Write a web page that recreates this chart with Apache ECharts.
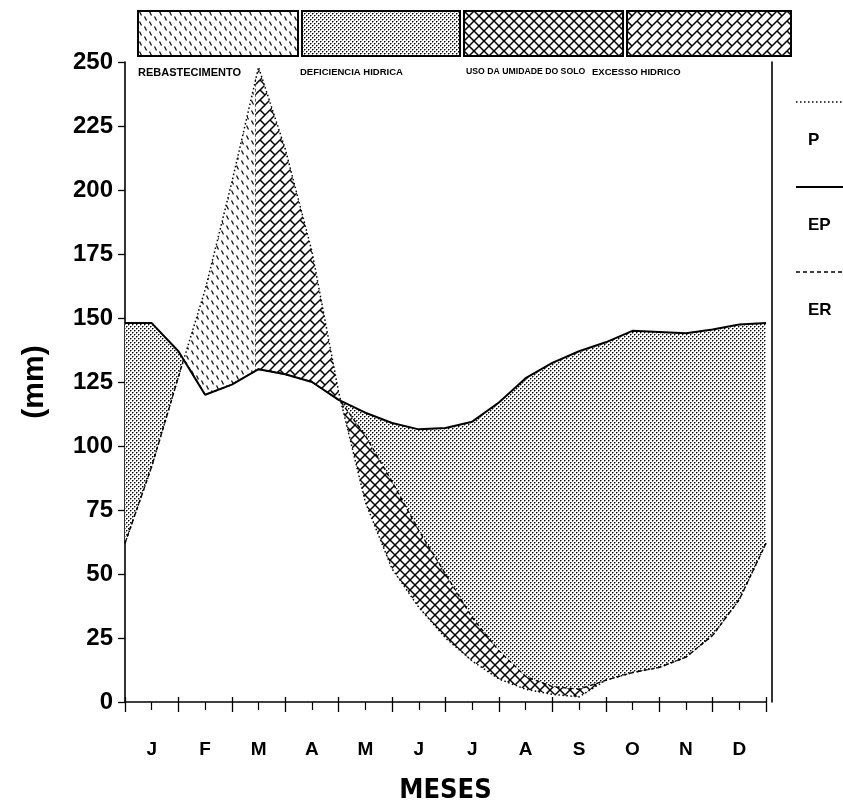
<!DOCTYPE html>
<html>
<head>
<meta charset="utf-8">
<script src="https://cdn.jsdelivr.net/npm/echarts@6/dist/echarts.min.js"></script>
<style>
  html, body { margin: 0; padding: 0; background: #fff; }
  #chart { width: 843px; height: 809px; }
</style>
</head>
<body>
<div id="chart"></div>
<script>
// Balanço hídrico mensal: precipitação (P), evapotranspiração potencial (EP) e real (ER), em mm.
const monthLabels = ['J', 'F', 'M', 'A', 'M', 'J', 'J', 'A', 'S', 'O', 'N', 'D'];

// Posição no ano (em meses, 0 = início de janeiro), a cada meio mês
const sampleMonths = [0, 0.5, 1, 1.5, 2, 2.5, 3, 3.5, 4, 4.5, 5, 5.5, 6, 6.5, 7, 7.5, 8, 8.5, 9, 9.5, 10, 10.5, 11, 11.5, 12];

// Precipitação (mm)
const precip = [62, 92, 127, 161, 203, 248, 216, 176, 121, 78, 52, 37, 25, 16, 9, 5, 3, 2, 8.5, 11.5, 13.5, 17.5, 26, 40, 62];

// Evapotranspiração potencial (mm)
const evapPot = [148, 148, 137, 120, 124, 130, 128, 125, 118, 113, 109, 106.5, 107, 109.5, 117, 126.5, 132.5, 137, 140.5, 145, 144.5, 144, 145.5, 147.5, 148];

// Evapotranspiração real (mm), com os pontos de encontro com P e EP
const realMonths = [0, 0.5, 1, 1.1, 1.5, 2, 2.5, 3, 3.5, 4, 4.05, 4.5, 5, 5.5, 6, 6.5, 7, 7.5, 8, 8.5, 9, 9.5, 10, 10.5, 11, 11.5, 12];
const evapReal = [62, 92, 127, 134, 120, 124, 130, 128, 125, 118, 117, 104, 86, 67, 50, 33, 20, 10, 6, 5, 8.5, 11.5, 13.5, 17.5, 26, 40, 62];

// Mês em que o solo volta à capacidade de campo (fim da reposição)
const rechargeEndMonth = 2.45;

const zoneNames = ['REBASTECIMENTO', 'DEFICIENCIA HIDRICA', 'USO DA UMIDADE DO SOLO', 'EXCESSO HIDRICO'];
const lineNames = ['P', 'EP', 'ER'];

// ---------- helpers ----------
function interp(xs, ys, x) {
  if (x <= xs[0]) return ys[0];
  for (let i = 1; i < xs.length; i++) {
    if (x <= xs[i]) {
      const t = (x - xs[i - 1]) / (xs[i] - xs[i - 1]);
      return ys[i - 1] + t * (ys[i] - ys[i - 1]);
    }
  }
  return ys[ys.length - 1];
}
const pAt = x => interp(sampleMonths, precip, x);
const epAt = x => interp(sampleMonths, evapPot, x);
const erAt = x => interp(realMonths, evapReal, x);

function tile(size, draw) {
  const c = document.createElement('canvas');
  c.width = size; c.height = size;
  const g = c.getContext('2d');
  g.fillStyle = '#fff';
  g.fillRect(0, 0, size, size);
  draw(g, size);
  return { image: c, repeat: 'repeat' };
}
function wrapped(g, size, fn) {
  for (const dx of [-size, 0, size]) {
    for (const dy of [-size, 0, size]) {
      g.save(); g.translate(dx, dy); fn(); g.restore();
    }
  }
}

// reposição: traços curtos inclinados
const patRecharge = tile(10, (g, s) => {
  g.strokeStyle = '#111'; g.lineWidth = 1.3;
  wrapped(g, s, () => {
    g.beginPath();
    g.moveTo(1.5, 0.5); g.lineTo(3.5, 4.5);
    g.moveTo(6.5, 5.5); g.lineTo(8.5, 9.5);
    g.stroke();
  });
});
// deficiência: pontilhado fino
const patDeficit = tile(4, (g) => {
  g.fillStyle = '#000';
  g.fillRect(0, 0, 1, 1);
  g.fillRect(2, 2, 1, 1);
  g.fillStyle = '#888';
  g.fillRect(1, 0, 1, 1);
  g.fillRect(0, 1, 1, 1);
  g.fillRect(3, 2, 1, 1);
  g.fillRect(2, 3, 1, 1);
});
// uso da umidade do solo: quadriculado diagonal
const patSoilUse = tile(10, (g, s) => {
  g.strokeStyle = '#000'; g.lineWidth = 1.5;
  wrapped(g, s, () => {
    g.beginPath();
    g.moveTo(0, 0); g.lineTo(s, s);
    g.moveTo(s, 0); g.lineTo(0, s);
    g.stroke();
  });
});
// excesso: tijolinhos diagonais
const patSurplus = tile(10, (g, s) => {
  g.strokeStyle = '#000'; g.lineWidth = 1.5;
  wrapped(g, s, () => {
    g.beginPath();
    g.moveTo(0, s); g.lineTo(s, 0);
    g.moveTo(0, 0); g.lineTo(s / 2, s / 2);
    g.stroke();
  });
});

// Faixa entre duas curvas, preenchida apenas onde a superior fica acima da inferior
function bandSeries(upperFn, lowerFn, x0, x1, fill, withEdge) {
  return {
    type: 'custom',
    xAxisIndex: 0,
    yAxisIndex: 0,
    silent: true,
    z: 1,
    data: [[x0, 0]],
    renderItem: function (params, api) {
      const top = [], bottom = [];
      const n = Math.round((x1 - x0) / 0.01);
      for (let i = 0; i <= n; i++) {
        const x = x0 + (x1 - x0) * i / n;
        const u = upperFn(x);
        const l = Math.min(lowerFn(x), u);
        top.push(api.coord([x, u]));
        bottom.push(api.coord([x, l]));
      }
      const children = [{
        type: 'polygon',
        shape: { points: top.concat(bottom.reverse()) },
        style: { fill: fill, stroke: null }
      }];
      if (withEdge) {
        const a = api.coord([x1, upperFn(x1)]);
        const b = api.coord([x1, Math.min(lowerFn(x1), upperFn(x1))]);
        children.push({
          type: 'line',
          shape: { x1: a[0], y1: a[1], x2: b[0], y2: b[1] },
          style: { stroke: '#000', lineWidth: 1.2, lineDash: [3, 2] }
        });
      }
      return { type: 'group', children: children };
    }
  };
}

const toPairs = (xs, ys) => xs.map((x, i) => [x, ys[i]]);

const fontMain = "'Liberation Sans', Arial, Helvetica, sans-serif";
const fontCond = "'DejaVu Sans Condensed', 'Liberation Sans', Arial, sans-serif";

const legendBoxes = [
  { x: 137, w: 160, fill: patRecharge },
  { x: 301, w: 158, fill: patDeficit },
  { x: 463, w: 159, fill: patSoilUse },
  { x: 626, w: 164, fill: patSurplus }
];
const legendTextX = [138, 300, 466, 592];
const legendFont = ['bold 11px ', 'bold 9.5px ', 'bold 8.7px ', 'bold 9.5px '];

const graphics = [];
legendBoxes.forEach((b, i) => {
  graphics.push({
    type: 'rect', left: b.x, top: 10, silent: true,
    shape: { width: b.w, height: 45 },
    style: { fill: b.fill, stroke: '#000', lineWidth: 2 }
  });
  graphics.push({
    type: 'text', left: legendTextX[i], top: 67, silent: true,
    style: { text: zoneNames[i], fill: '#000', font: legendFont[i] + fontMain }
  });
});
// legenda das curvas, à direita
const lineKeys = [
  { y: 102, dash: [1.5, 2.5], w: 1.4 },
  { y: 187, dash: null, w: 1.8 },
  { y: 272, dash: [4, 3], w: 1.4 }
];
lineKeys.forEach((k, i) => {
  graphics.push({
    type: 'line', silent: true,
    shape: { x1: 796, y1: k.y, x2: 843, y2: k.y },
    style: { stroke: '#000', lineWidth: k.w, lineDash: k.dash }
  });
  graphics.push({
    type: 'text', left: 808, top: k.y + 30, silent: true,
    style: { text: lineNames[i], fill: '#000', font: 'bold 17px ' + fontMain }
  });
});

const chart = echarts.init(document.getElementById('chart'), null, { renderer: 'canvas' });
chart.setOption({
  animation: false,
  backgroundColor: '#fff',
  grid: { left: 125, right: 77, top: 62, bottom: 105 },
  xAxis: [
    {
      type: 'value', min: 0, max: 12, interval: 1,
      position: 'bottom',
      axisLine: { show: true, onZero: false, lineStyle: { color: '#000', width: 1.6 } },
      axisTick: { show: true, length: 10, lineStyle: { color: '#000', width: 1.3 } },
      minorTick: { show: true, splitNumber: 2, length: 8, lineStyle: { color: '#000', width: 1.2 } },
      axisLabel: { show: false },
      splitLine: { show: false },
      name: 'MESES', nameLocation: 'middle', nameGap: 75,
      nameTextStyle: { color: '#000', fontFamily: fontCond, fontWeight: 'bold', fontSize: 27 }
    },
    {
      type: 'category', data: monthLabels, boundaryGap: true,
      position: 'bottom',
      axisLine: { show: false },
      axisTick: { show: true, inside: true, length: 5, lineStyle: { color: '#000', width: 1.3 } },
      axisLabel: { color: '#000', fontFamily: fontMain, fontWeight: 'bold', fontSize: 19, margin: 38 },
      splitLine: { show: false }
    }
  ],
  yAxis: [
    {
      type: 'value', min: 0, max: 250, interval: 25,
      axisLine: { show: true, onZero: false, lineStyle: { color: '#000', width: 1.6 } },
      axisTick: { show: true, length: 7, lineStyle: { color: '#000', width: 1.3 } },
      axisLabel: { color: '#000', fontFamily: fontMain, fontWeight: 'bold', fontSize: 24, margin: 12 },
      splitLine: { show: false },
      name: '(mm)', nameLocation: 'middle', nameGap: 75, nameRotate: 90,
      nameTextStyle: { color: '#000', fontFamily: fontMain, fontWeight: 'bold', fontSize: 30 }
    },
    {
      type: 'value', min: 0, max: 250, interval: 25, position: 'right', offset: 6,
      axisLine: { show: true, onZero: false, lineStyle: { color: '#000', width: 1.6 } },
      axisTick: { show: false },
      axisLabel: { show: false },
      splitLine: { show: false }
    }
  ],
  graphic: graphics,
  series: [
    // deficiência hídrica: entre EP e ER
    bandSeries(epAt, erAt, 0, 12, patDeficit, false),
    // uso da umidade do solo: entre ER e P
    bandSeries(erAt, x => Math.min(pAt(x), erAt(x)), 0, 12, patSoilUse, false),
    // reposição: P acima de EP até o solo encher
    bandSeries(pAt, epAt, 0, rechargeEndMonth, patRecharge, true),
    // excesso hídrico: P acima de EP após o solo cheio
    bandSeries(pAt, epAt, rechargeEndMonth, 12, patSurplus, false),
    {
      name: 'P', type: 'line', xAxisIndex: 0, yAxisIndex: 0, z: 3,
      data: toPairs(sampleMonths, precip), symbol: 'none', silent: true,
      lineStyle: { color: '#000', width: 1.5, type: [1.5, 2.5] }
    },
    {
      name: 'ER', type: 'line', xAxisIndex: 0, yAxisIndex: 0, z: 4,
      data: toPairs(realMonths, evapReal), symbol: 'none', silent: true,
      lineStyle: { color: '#000', width: 1.4, type: [4, 3] }
    },
    {
      name: 'EP', type: 'line', xAxisIndex: 0, yAxisIndex: 0, z: 5,
      data: toPairs(sampleMonths, evapPot), symbol: 'none', silent: true,
      lineStyle: { color: '#000', width: 2 }
    }
  ]
});
</script>
</body>
</html>
